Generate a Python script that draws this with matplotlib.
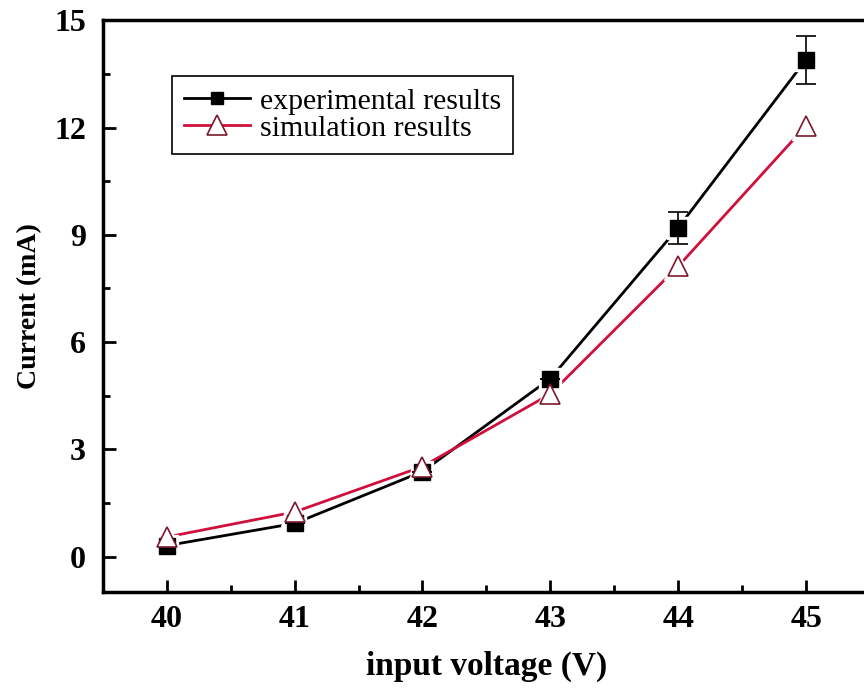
import matplotlib.pyplot as plt
import numpy as np

voltage = [40, 41, 42, 43, 44, 45]
exp_current = [0.31, 0.93, 2.38, 4.98, 9.2, 13.9]
exp_err = [0.0, 0.0, 0.0, 0.0, 0.45, 0.67]
sim_current = [0.55, 1.25, 2.52, 4.55, 8.12, 12.05]

plt.rcParams['font.family'] = ['Liberation Serif', 'DejaVu Serif']

fig = plt.figure(figsize=(8.64, 6.97), dpi=100)
ax = fig.add_axes([0.119, 0.150, 0.888, 0.821])

line_red = '#d0103c'
edge_red = '#7a1a2c'

ax.plot(voltage, exp_current, color='black', lw=2, zorder=2)
ax.plot(voltage, sim_current, color=line_red, lw=2, zorder=2)
# white halos so the lines stop short of the symbols
ax.plot(voltage, exp_current, ls='none', marker='s', ms=16, color='white', zorder=3)
ax.plot(voltage, sim_current, ls='none', marker='^', ms=20, color='white', zorder=3)

ax.errorbar(voltage, exp_current, yerr=exp_err, fmt='none', ecolor='black',
            elinewidth=1.2, capsize=7, capthick=1.2, zorder=4)
ax.plot(voltage, exp_current, ls='none', marker='s', ms=11, color='black', zorder=5)
ax.plot(voltage, sim_current, ls='none', marker='^', ms=14.5, mfc='white',
        mec=edge_red, mew=1.2, zorder=6)

# legend handles
h1, = ax.plot([], [], color='black', lw=2, marker='s', ms=9)
h2, = ax.plot([], [], color=line_red, lw=2, marker='^', ms=15, mfc='white', mec=edge_red, mew=1.2)
leg = ax.legend([h1, h2], ['experimental results', 'simulation results'],
                loc='upper left', bbox_to_anchor=(172 / 864, 1 - 76 / 697),
                bbox_transform=fig.transFigure, fancybox=False, framealpha=1,
                edgecolor='black', fontsize=21.5, handlelength=2.2, handletextpad=0.35,
                borderpad=0.4, labelspacing=0.0, borderaxespad=0)
leg.get_frame().set_linewidth(1.2)

ax.set_xticks(voltage)
ax.set_xticks(np.arange(39.5, 45.6, 0.5), minor=True)
ax.set_yticks([0, 3, 6, 9, 12, 15])
ax.set_yticks(np.arange(0, 15.1, 1.5), minor=True)
ax.set_xlim(39.5, 45.5)
ax.set_ylim(-1, 15)
ax.tick_params(which='both', direction='in', width=2, labelsize=23)
ax.tick_params(axis='x', pad=9)
ax.tick_params(axis='y', pad=12)
ax.tick_params(which='major', length=9)
ax.tick_params(which='minor', length=5)
for lab in ax.get_xticklabels() + ax.get_yticklabels():
    lab.set_fontweight('bold')
for s in ax.spines.values():
    s.set_linewidth(2.5)

ax.set_xlabel('input voltage (V)', fontsize=24, fontweight='bold', labelpad=12)
ax.set_ylabel('Current (mA)', fontsize=20, fontweight='bold', labelpad=9)

fig.savefig('out.png', dpi=100)
